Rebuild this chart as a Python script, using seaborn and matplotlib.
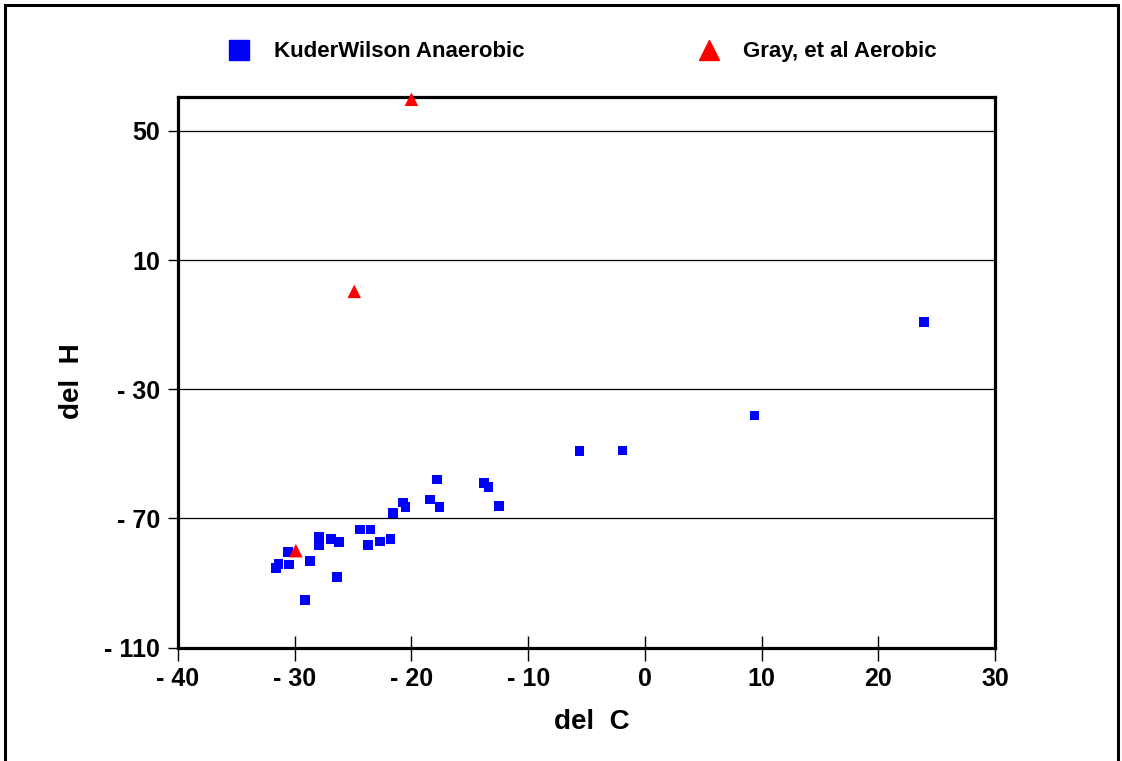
import matplotlib
matplotlib.use("Agg")
import matplotlib.pyplot as plt
import numpy as np
import pandas as pd
import seaborn as sns
from matplotlib.lines import Line2D
from matplotlib.patches import Rectangle

# ------------------------------ data

kuder_c = [
    -31.6, -31.4, -30.5, -30.6, -28.7, -29.1, -27.9, -27.9, -26.9, -26.2,
    -26.4, -24.4, -23.5, -23.7, -22.7, -21.8, -21.6, -20.7, -20.5, -18.4,
    -17.8, -17.6, -13.8, -13.4, -12.5, -5.6, -1.9, 9.4, 23.9,
]
kuder_h = [
    -85.4, -84.2, -84.3, -80.4, -83.3, -95.2, -75.8, -78.2, -76.3, -77.4,
    -88.2, -73.4, -73.4, -78.2, -77.2, -76.4, -68.3, -65.1, -66.4, -64.2,
    -58.0, -66.4, -59.0, -60.3, -66.2, -49.2, -49.0, -38.2, -9.1,
]
gray_c = [-20.0, -24.9, -29.9]
gray_h = [59.8, 0.3, -80.0]

SERIES = ["KuderWilson Anaerobic", "Gray, et al Aerobic"]

x_ticks = [-40, -30, -20, -10, 0, 10, 20, 30]
x_labels = ["- 40", "- 30", "- 20", "- 10", "0", "10", "20", "30"]
y_ticks = [-110, -70, -30, 10, 50]
y_labels = ["- 110", "- 70", "- 30", "10", "50"]

# ------------------------------ style

BLUE = "#0000ff"
RED = "#ff0000"

sns.set_style("white")
plt.rcParams["font.family"] = ["Liberation Sans", "DejaVu Sans"]
plt.rcParams["font.weight"] = "bold"
plt.rcParams["text.color"] = "black"
plt.rcParams["axes.labelcolor"] = "black"
plt.rcParams["xtick.color"] = "black"
plt.rcParams["ytick.color"] = "black"

DPI = 100
FIGSIZE = (1122 / DPI, 761 / DPI)


def build_df():
    a = pd.DataFrame({"del C": kuder_c, "del H": kuder_h, "series": SERIES[0]})
    b = pd.DataFrame({"del C": gray_c, "del H": gray_h, "series": SERIES[1]})
    return pd.concat([a, b], ignore_index=True)


def main():
    df = build_df()

    fig = plt.figure(figsize=FIGSIZE, dpi=DPI)
    ax = fig.add_axes([178 / 1122, 1 - 647.5 / 761, (995 - 178) / 1122, (647.5 - 97) / 761])

    # squares first, then triangles on top
    sns.scatterplot(
        data=df[df["series"] == SERIES[0]], x="del C", y="del H",
        color=BLUE, marker="s", s=48, edgecolor="none", ax=ax, legend=False,
        zorder=3, clip_on=False,
    )
    sns.scatterplot(
        data=df[df["series"] == SERIES[1]], x="del C", y="del H",
        color=RED, marker="^", s=95, edgecolor="none", ax=ax, legend=False,
        zorder=4, clip_on=False,
    )

    ax.set_xlim(-40, 30)
    ax.set_ylim(-110, 60.5)
    ax.set_xticks(x_ticks, x_labels)
    ax.set_yticks(y_ticks, y_labels)
    ax.tick_params(axis="x", direction="inout", length=18, width=1, colors="black",
                   labelsize=18, pad=5, bottom=True)
    ax.tick_params(axis="y", direction="out", length=7, width=1, colors="black",
                   labelsize=18, pad=6, left=True)
    for lbl in ax.get_xticklabels() + ax.get_yticklabels():
        lbl.set_fontweight("bold")

    ax.grid(axis="y", color="black", linewidth=0.9)
    ax.grid(axis="x", visible=False)
    for sp in ax.spines.values():
        sp.set_visible(True)
        sp.set_color("black")
        sp.set_linewidth(2.3)

    ax.set_xlabel("del  C", fontsize=20, fontweight="bold")
    ax.set_ylabel("del  H", fontsize=20, fontweight="bold")
    ax.xaxis.set_label_coords(0.506, -0.112)
    ax.yaxis.set_label_coords(-0.114, 0.484)

    handles = [
        Line2D([], [], linestyle="none", marker="s", color=BLUE, markersize=15),
        Line2D([], [], linestyle="none", marker="^", color=RED, markersize=14),
    ]
    fig.legend(
        handles, SERIES, loc="center", bbox_to_anchor=(0.519, 0.9317), ncol=2,
        frameon=False, prop={"weight": "bold", "size": 16},
        columnspacing=7.8, handletextpad=1.05, handlelength=1.0,
    )

    # outer chart frame (bottom edge falls outside the image)
    fig.patches.append(Rectangle(
        (5 / 1122, -0.1), (1118 - 5) / 1122, 1.1 - 5 / 761,
        transform=fig.transFigure, fill=False, edgecolor="black", linewidth=2.2,
    ))

    fig.savefig("out.png", dpi=DPI)
    plt.close(fig)


if __name__ == "__main__":
    main()
